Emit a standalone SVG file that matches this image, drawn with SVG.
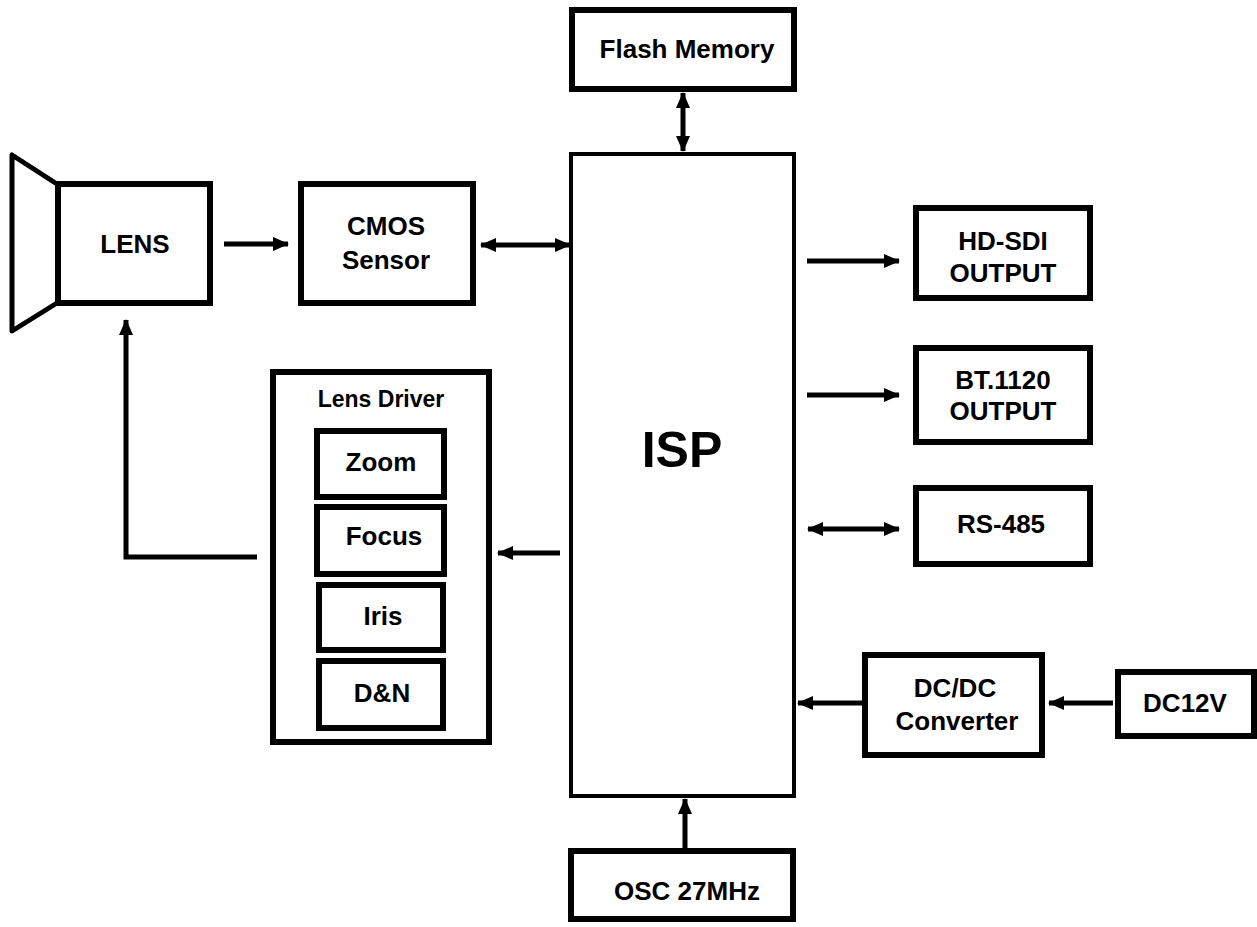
<svg xmlns="http://www.w3.org/2000/svg" width="1257" height="927" viewBox="0 0 1257 927">
<style>
.box{fill:#fff;stroke:#000;stroke-width:6}
.thin{fill:#fff;stroke:#000;stroke-width:4}
.t{font-family:"Liberation Sans",Arial,sans-serif;font-weight:bold;font-size:26px;fill:#000;text-anchor:middle}
.c{fill:none;stroke:#000;stroke-width:5}
</style>
<defs>
<marker id="ah" viewBox="0 0 16 14" refX="15" refY="7" markerWidth="16" markerHeight="14" markerUnits="userSpaceOnUse" orient="auto-start-reverse">
<path d="M0,0 L16,7 L0,14 z" fill="#000"/>
</marker>
</defs>
<rect width="1257" height="927" fill="#fff"/>
<g id="lens">
<polyline points="57,184 12,155 12,331 57,303" fill="none" stroke="#000" stroke-width="5" stroke-linejoin="round"/>
<rect class="box" x="58" y="184" width="152" height="119"/>
<text class="t" x="135" y="253">LENS</text>
</g>
<g id="cmos">
<rect class="box" x="301" y="184" width="172" height="119"/>
<text class="t" x="386" y="235">CMOS</text>
<text class="t" x="386" y="269">Sensor</text>
</g>
<g id="flash">
<rect class="box" x="572" y="10" width="222" height="79"/>
<text class="t" x="687" y="58">Flash Memory</text>
</g>
<g id="isp">
<rect class="thin" x="571" y="154" width="223" height="642"/>
<text class="t" x="682" y="467" style="font-size:50px">ISP</text>
</g>
<g id="lensdriver">
<rect class="box" x="273" y="372" width="216" height="370"/>
<text class="t" x="381" y="407" style="font-size:23px">Lens Driver</text>
</g>
<g id="zoom">
<rect class="box" x="317" y="431" width="127" height="66"/>
<text class="t" x="381" y="471">Zoom</text>
</g>
<g id="focus">
<rect class="box" x="317" y="507" width="127" height="67"/>
<text class="t" x="384" y="545">Focus</text>
</g>
<g id="iris">
<rect class="box" x="319" y="585" width="124" height="65"/>
<text class="t" x="383" y="625">Iris</text>
</g>
<g id="dn">
<rect class="box" x="319" y="661" width="124" height="67"/>
<text class="t" x="382" y="702">D&amp;N</text>
</g>
<g id="hdsdi">
<rect class="box" x="916" y="208" width="174" height="90"/>
<text class="t" x="1003" y="250">HD-SDI</text>
<text class="t" x="1003" y="282">OUTPUT</text>
</g>
<g id="bt1120">
<rect class="box" x="916" y="348" width="174" height="94"/>
<text class="t" x="1003" y="389">BT.1120</text>
<text class="t" x="1003" y="420">OUTPUT</text>
</g>
<g id="rs485">
<rect class="box" x="916" y="488" width="174" height="76"/>
<text class="t" x="1001" y="533">RS-485</text>
</g>
<g id="dcdc">
<rect class="box" x="865" y="655" width="177" height="100"/>
<text class="t" x="955" y="697">DC/DC</text>
<text class="t" x="957" y="730">Converter</text>
</g>
<g id="dc12v">
<rect class="box" x="1118" y="672" width="136" height="64"/>
<text class="t" x="1185" y="712">DC12V</text>
</g>
<g id="osc">
<rect class="box" x="571" y="851" width="222" height="68"/>
<text class="t" x="687" y="900">OSC 27MHz</text>
</g>
<g id="connectors">
<line class="c" x1="224" y1="244" x2="288" y2="244" marker-end="url(#ah)"/>
<line class="c" x1="481" y1="245" x2="570" y2="245" marker-start="url(#ah)" marker-end="url(#ah)"/>
<line class="c" x1="683" y1="93" x2="683" y2="151" marker-start="url(#ah)" marker-end="url(#ah)"/>
<line class="c" x1="560" y1="553" x2="498" y2="553" marker-end="url(#ah)"/>
<polyline class="c" points="257,557 126,557 126,320" marker-end="url(#ah)"/>
<line class="c" x1="807" y1="261" x2="899" y2="261" marker-end="url(#ah)"/>
<line class="c" x1="807" y1="395" x2="899" y2="395" marker-end="url(#ah)"/>
<line class="c" x1="808" y1="529" x2="899" y2="529" marker-start="url(#ah)" marker-end="url(#ah)"/>
<line class="c" x1="862" y1="703" x2="798" y2="703" marker-end="url(#ah)"/>
<line class="c" x1="1113" y1="703" x2="1049" y2="703" marker-end="url(#ah)"/>
<line class="c" x1="685" y1="848" x2="685" y2="799" marker-end="url(#ah)"/>
</g>
</svg>
